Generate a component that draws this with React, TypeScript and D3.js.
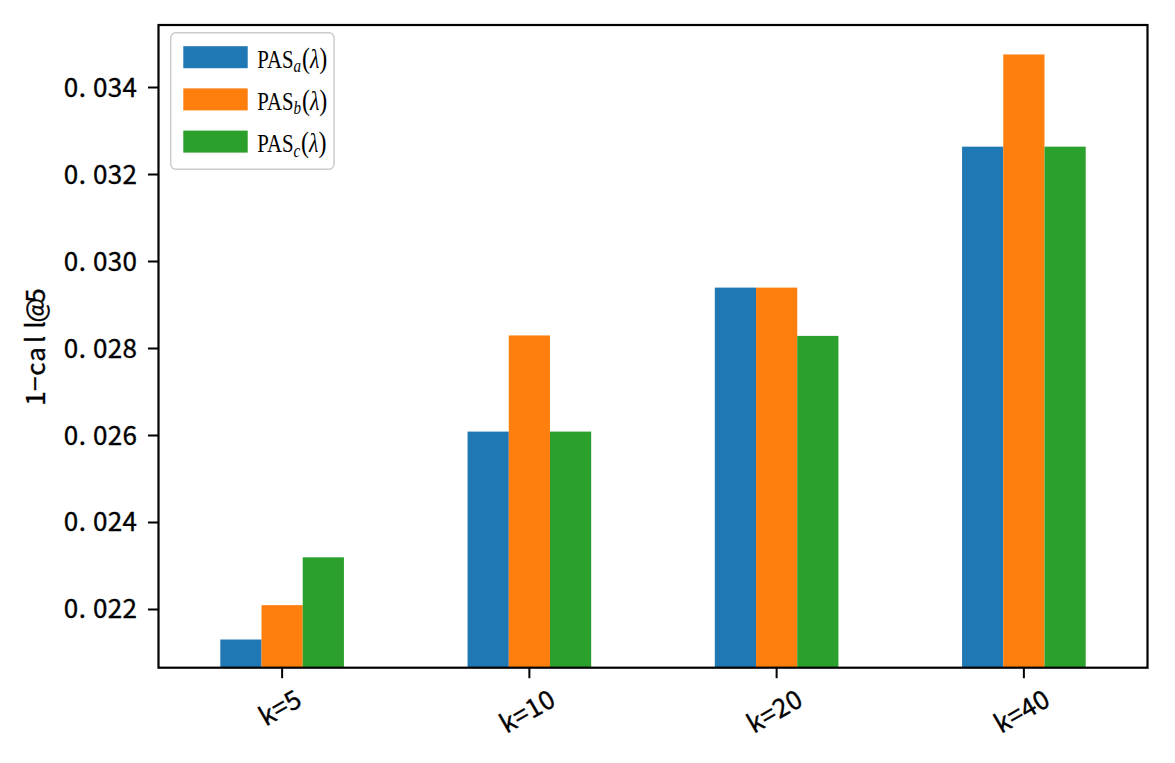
import React from "react";
import * as d3 from "d3";

const categories = ["k=5", "k=10", "k=20", "k=40"];
const seriesNames = ["a", "b", "c"];
const seriesA = [0.02131, 0.02609, 0.0294, 0.03264];
const seriesB = [0.0221, 0.0283, 0.0294, 0.03476];
const seriesC = [0.0232, 0.02609, 0.02829, 0.03264];
const yTicks = [0.022, 0.024, 0.026, 0.028, 0.03, 0.032, 0.034];
const yLabel = "1−call@5";
const colors = ["#1f77b4", "#ff7f0e", "#2ca02c"];

const W = 1175;
const H = 763;
const left = 158.5;
const right = 1147.5;
const top = 25;
const bottom = 667.7;

const FONT = "'Noto Sans CJK SC', 'Noto Sans', sans-serif";
const FS = 26;
const ADV = 14.7;

function MonoText(props: { text: string; x: number; y: number; anchor?: "start" | "middle" | "end"; transform?: string }) {
  const { text, x, y, anchor = "start", transform } = props;
  const chars = Array.from(text);
  const total = chars.length * ADV;
  const start = anchor === "start" ? x : anchor === "middle" ? x - total / 2 : x - total;
  return (
    <text y={y} fontFamily={FONT} fontSize={FS} fill="#000" stroke="#000" strokeWidth={0.35} transform={transform}>
      {chars.map((c, i) =>
        c === "." ? (
          <tspan key={i} x={start + i * ADV + 0.5} textAnchor="start">
            {c}
          </tspan>
        ) : (
          <tspan key={i} x={start + i * ADV + ADV / 2} textAnchor="middle">
            {c}
          </tspan>
        )
      )}
    </text>
  );
}

export default function App() {
  const series = [seriesA, seriesB, seriesC];
  const x = d3.scaleLinear().domain([-0.5, categories.length - 0.5]).range([left, right]);
  const y = d3.scaleLinear().domain([0.020662, 0.035437]).range([bottom, top]);
  const bw = 0.5 / series.length;
  const fmt = d3.format(".3f");
  const serif = "'Liberation Serif', 'DejaVu Serif', serif";

  return (
    <svg width={W} height={H} style={{ position: "absolute", left: 0, top: 0, background: "#fff" }}>
      <defs>
        <clipPath id="plotclip">
          <rect x={left} y={top} width={right - left} height={bottom - top} />
        </clipPath>
      </defs>
      <rect x={0} y={0} width={W} height={H} fill="#fff" />
      <g clipPath="url(#plotclip)">
        {series.map((vals, si) =>
          vals.map((v, ci) => {
            const cx = ci + (si - 1) * bw;
            const x0 = x(cx - bw / 2);
            const x1 = x(cx + bw / 2);
            return (
              <rect
                key={`${si}-${ci}`}
                x={x0}
                y={y(v)}
                width={x1 - x0}
                height={bottom + 5 - y(v)}
                fill={colors[si]}
              />
            );
          })
        )}
      </g>
      <rect x={left} y={top} width={right - left} height={bottom - top} fill="none" stroke="#000" strokeWidth={2.2} />
      {yTicks.map((t) => (
        <g key={t}>
          <line x1={left - 10.5} x2={left} y1={y(t)} y2={y(t)} stroke="#000" strokeWidth={2} />
          <MonoText text={fmt(t)} x={137} y={y(t) + 9} anchor="end" />
        </g>
      ))}
      {categories.map((c, i) => {
        const tx = x(i);
        const w = Array.from(c).length * ADV;
        const cy = 690 + (w * 0.5 + 16 * 0.866) / 2;
        const cx = tx - 2;
        return (
          <g key={c}>
            <line x1={tx} x2={tx} y1={bottom} y2={bottom + 10.5} stroke="#000" strokeWidth={2} />
            <MonoText text={c} x={0} y={9} anchor="middle" transform={`translate(${cx},${cy}) rotate(-30)`} />
          </g>
        );
      })}
      <MonoText text={yLabel} x={0} y={9} anchor="middle" transform={`translate(35.7,347) rotate(-90)`} />
      <rect x={170.7} y={32.7} width={163.3} height={136.6} rx={5} ry={5} fill="#fff" fillOpacity={0.8} stroke="#cccccc" strokeWidth={1.5} />
      {seriesNames.map((s, i) => {
        const cy = 57.2 + i * 42.2;
        return (
          <g key={s}>
            <rect x={183.3} y={cy - 11} width={64.4} height={22} fill={colors[i]} />
            <text
              transform={`translate(257.3,${cy + 10.5}) scale(0.8,1)`}
              x={0}
              y={0}
              fontFamily={serif}
              fontSize={26}
              fill="#000"
            >
              PAS
              <tspan fontStyle="italic" fontSize={19} dy={4.5}>{s}</tspan>
              <tspan dy={-4.5} dx={1} fontSize={30}>(</tspan>
              <tspan fontStyle="italic" fontSize={27}>λ</tspan>
              <tspan fontSize={30}>)</tspan>
            </text>
          </g>
        );
      })}
    </svg>
  );
}
